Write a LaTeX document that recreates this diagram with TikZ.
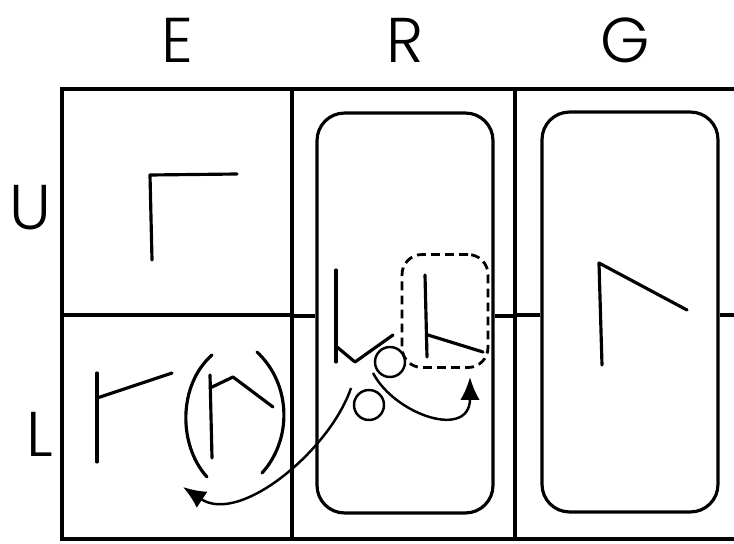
\documentclass[tikz,border=0pt]{standalone}
\usepackage{fontspec}
\newfontfamily\labelfont{Poppins}[UprightFont=* Light]
\usetikzlibrary{arrows.meta}

\begin{document}
\begin{tikzpicture}[x=0.02cm, y=-0.02cm,
    rule/.style={line width=2.2pt},
    rbox/.style={rectangle, draw, line width=1.8pt, rounded corners=0.55cm, minimum width=3.52cm, minimum height=8cm, inner sep=0pt},
    hint/.style={rectangle, draw, line width=1.6pt, dash pattern=on 5pt off 3pt, rounded corners=0.4cm, minimum width=1.72cm, minimum height=2.26cm, inner sep=0pt},
    dot/.style={circle, draw, line width=1.4pt, minimum size=0.6cm, inner sep=0pt},
    glyph/.style={line width=1.8pt, line cap=round, line join=round},
    hop/.style={line width=1.4pt, -{Latex[length=13pt, width=11pt]}},
    head/.style={font=\labelfont\fontsize{36}{36}\selectfont, inner sep=0pt}
]
\useasboundingbox (0,0) rectangle (734,544);

\node[head] (colE) at (177,40) {E};
\node[head] (colR) at (405,40) {R};
\node[head] (colG) at (625,40) {G};
\node[head] (rowU) at (30,208) {U};
\node[head] (rowL) at (40,434) {L};

% grid
\draw[rule] (734,89) -- (62,89) -- (62,539) -- (734,539);
\draw[rule] (292,89) -- (292,539);
\draw[rule] (515,89) -- (515,539);
\draw[rule] (62,315) -- (292,315);

\node[rbox] (boxR) at (405,313) {};
\node[rbox] (boxG) at (630,312) {};
\node[hint] (focus) at (445,311) {};
\node[dot] (dotA) at (390,362) {};
\node[dot] (dotB) at (369,405) {};

\draw[rule, line width=1.8pt] (292,316) -- (boxR.west |- 0,316);
\draw[rule, line width=1.8pt] (boxR.east |- 0,316) -- (515,316);
\draw[rule, line width=1.8pt] (515,315) -- (boxG.west |- 0,315);
\draw[rule, line width=1.8pt] (boxG.east |- 0,315) -- (734,315);

% E column
\draw[glyph] (152,260) -- (150,175) -- (237,174);
\draw[glyph] (97,373) -- (97,462);
\draw[glyph] (97,398) -- (172,373);
\draw[glyph] (212,355) .. controls (178,385) and (178,445) .. (207,477);
\draw[glyph] (257,352) .. controls (292,385) and (292,440) .. (262,473);
\draw[glyph] (210,375) -- (212,458);
\draw[glyph] (210,388) -- (233,377) -- (273,407);

% R column
\draw[glyph] (336,270) -- (336,362);
\draw[glyph] (337,347) -- (355,362) -- (393,335);
\draw[glyph] (425,275) -- (427,357);
\draw[glyph] (428,335) -- (483,352);

% G column
\draw[glyph] (602,365) -- (599,263) -- (687,310);

\coordinate (fromR) at (351,388);
\coordinate (toE) at (183,487);
\coordinate (fromDot) at (373,373);
\coordinate (toFocus) at (470,377);
\draw[hop] (fromR) .. controls (330,450) and (240,525) .. (toE);
\draw[hop] (fromDot) .. controls (395,415) and (470,440) .. (toFocus);

\end{tikzpicture}
\end{document}
